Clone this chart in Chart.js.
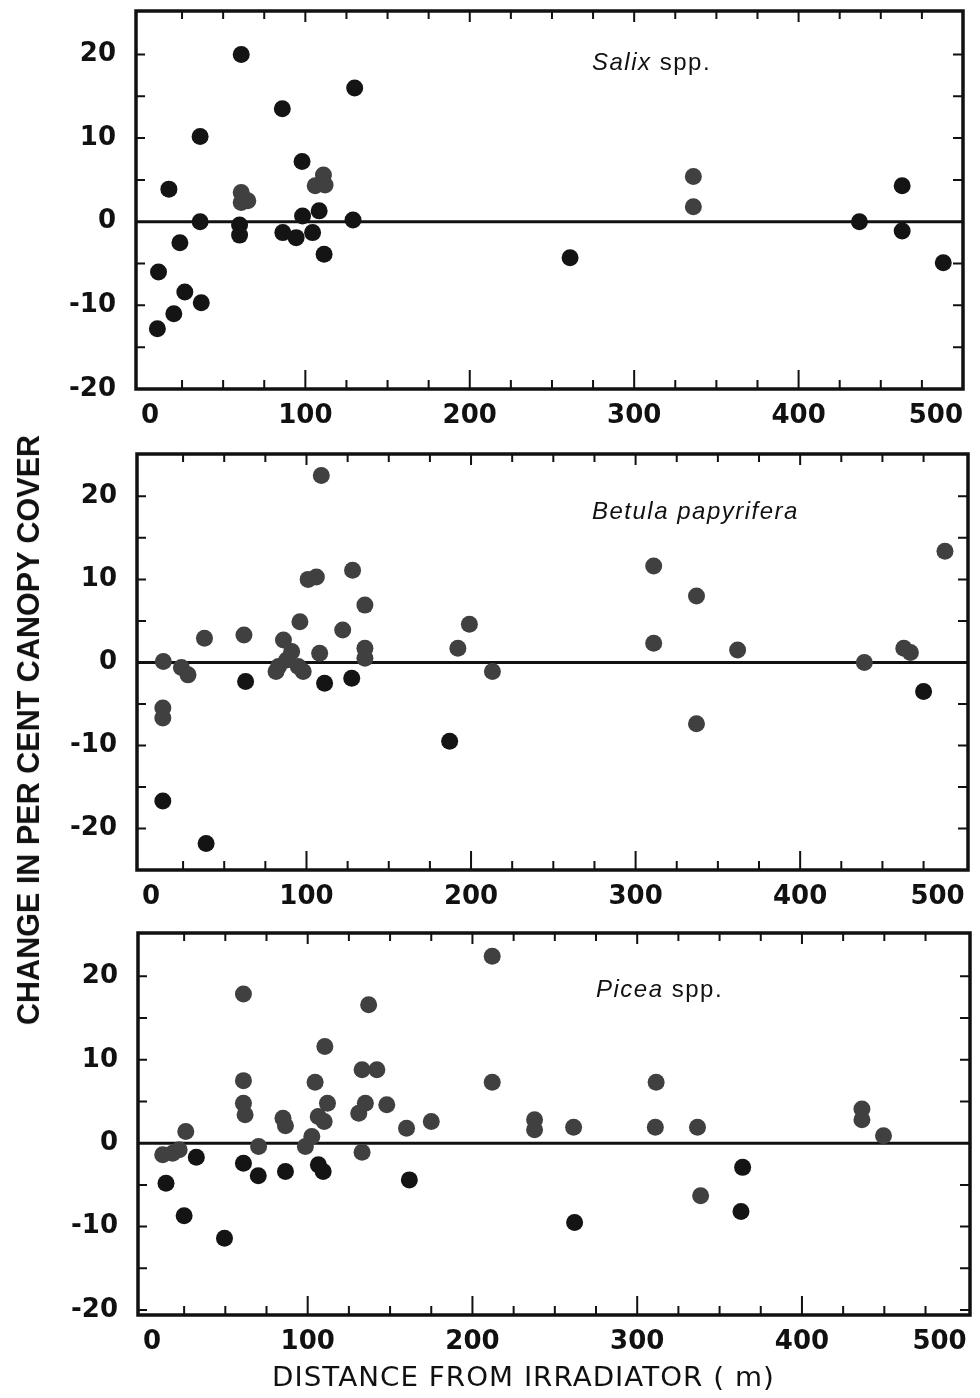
<!DOCTYPE html>
<html>
<head>
<meta charset="utf-8">
<script src="https://cdn.jsdelivr.net/npm/chart.js@4.4.1/dist/chart.umd.min.js"></script>
<style>
  body { margin: 0; background: #fff; width: 980px; height: 1398px; position: relative; overflow: hidden; }
  canvas { position: absolute; left: 0; }
  .species { position: absolute; font-family: "Liberation Sans", Arial, sans-serif; font-size: 24px; line-height: 24px; letter-spacing: 1.5px; color: #111; white-space: nowrap; }
  .species i { font-style: italic; }
  #ytitle { position: absolute; left: 28px; top: 730px; font-family: "Liberation Sans", Arial, sans-serif; font-weight: bold; font-size: 32px; line-height: 32px; color: #111; white-space: nowrap; }
  #xtitle { position: absolute; left: 272px; top: 1363px; font-family: "DejaVu Sans", sans-serif; font-size: 27px; line-height: 28px; letter-spacing: 1px; color: #111; white-space: nowrap; }
</style>
</head>
<body>
<canvas id="salix" width="980" height="440" style="top:0"></canvas>
<canvas id="betula" width="980" height="470" style="top:440px"></canvas>
<canvas id="picea" width="980" height="488" style="top:910px"></canvas>

<div class="species" style="left:592px;top:50px"><i>Salix</i> spp.</div>
<div class="species" style="left:592px;top:499px"><i>Betula papyrifera</i></div>
<div class="species" style="left:596px;top:977px"><i>Picea</i> spp.</div>
<div id="ytitle">CHANGE IN PER CENT CANOPY COVER</div>
<div id="xtitle">DISTANCE FROM IRRADIATOR ( m)</div>

<script>
// tick labels and tick marks
const xTickLabels = [0, 100, 200, 300, 400, 500];
const yTickLabels = [-20, -10, 0, 10, 20];
const xTickMarks = [25, 50, 75, 100, 125, 150, 175, 200, 225, 250, 275, 300, 325, 350, 375, 400, 425, 450, 475];
const yTickMarks = [-20, -15, -10, -5, 5, 10, 15, 20];

// Salix spp. (solid black dots / grey dots)
const salixDarkDist   = [10, 10.7, 17, 20, 23.7, 26.7, 36, 36, 36.7, 60, 60, 61, 86, 86.3, 94.4, 98, 98.3, 104.4, 108.4, 111.4, 129, 130, 261, 437, 463, 463, 488];
const salixDarkChange = [-12.8, -6.0, 3.9, -11.0, -2.5, -8.4, 10.2, 0, -9.7, -0.4, -1.6, 20, 13.5, -1.3, -1.9, 7.2, 0.7, -1.3, 1.3, -3.9, 0.2, 16, -4.3, 0, 4.3, -1.1, -4.9];
const salixGreyDist   = [61, 65, 61, 106, 111, 112, 336, 336];
const salixGreyChange = [3.5, 2.5, 2.3, 4.3, 5.6, 4.4, 5.4, 1.8];

// Betula papyrifera
const betulaGreyDist   = [13, 24, 28, 12.7, 12.7, 38, 62, 86, 91, 83, 81.5, 88, 95, 98, 96, 101, 106, 109, 108, 122, 128, 135.5, 135.5, 135.5, 192, 199, 213, 311, 311, 337, 337, 362, 439, 463, 467, 488];
const betulaGreyChange = [0.1, -0.6, -1.5, -5.5, -6.7, 2.9, 3.3, 2.7, 1.3, -0.5, -1.1, 0.3, -0.5, -1.1, 4.9, 10.0, 10.3, 22.5, 1.1, 3.9, 11.1, 6.9, 1.7, 0.5, 1.7, 4.6, -1.1, 11.6, 2.3, 8.0, -7.4, 1.5, 0, 1.7, 1.2, 13.4];
const betulaDarkDist   = [12.7, 39, 63, 111, 127.5, 187, 475];
const betulaDarkChange = [-16.7, -21.8, -2.3, -2.5, -1.9, -9.5, -3.5];

// Picea spp.
const piceaGreyDist   = [61, 137, 110.4, 133, 142, 61, 104.5, 61, 62, 112, 106.4, 110, 85, 86.5, 135, 131, 148, 102.5, 98.6, 133, 160, 175, 26, 12, 18, 22, 70.2, 212, 212, 237.7, 237.7, 261.4, 311.5, 311, 336.6, 338.5, 436.4, 436.4, 449.5];
const piceaGreyChange = [17.9, 16.6, 11.6, 8.8, 8.8, 7.5, 7.3, 4.8, 3.4, 4.8, 3.2, 2.6, 3.0, 2.1, 4.8, 3.6, 4.6, 0.8, -0.4, -1.1, 1.8, 2.6, 1.4, -1.4, -1.2, -0.8, -0.4, 22.4, 7.3, 2.8, 1.6, 1.9, 7.3, 1.9, 1.9, -6.3, 4.1, 2.8, 0.9];
const piceaDarkDist   = [14, 25, 49.5, 32.4, 61, 70, 86.5, 106.5, 109.4, 161.7, 262, 364, 363];
const piceaDarkChange = [-4.8, -8.7, -11.4, -1.7, -2.4, -3.9, -3.4, -2.6, -3.4, -4.4, -9.5, -2.9, -8.2];

const toPoints = (xs, ys) => xs.map((x, i) => ({ x: x, y: ys[i] }));

// frame, zero line and inward tick marks
const framePlugin = {
  id: 'frame',
  beforeDatasetsDraw(chart) {
    const { ctx, chartArea: a, scales: { y } } = chart;
    const y0 = y.getPixelForValue(0);
    ctx.save();
    ctx.strokeStyle = '#111';
    ctx.lineWidth = 3;
    ctx.beginPath();
    ctx.moveTo(a.left, y0);
    ctx.lineTo(a.right, y0);
    ctx.stroke();
    ctx.restore();
  },
  afterDatasetsDraw(chart) {
    const { ctx, chartArea: a, scales: { x, y } } = chart;
    ctx.save();
    ctx.strokeStyle = '#111';
    ctx.lineWidth = 2;
    ctx.beginPath();
    xTickMarks.forEach(v => {
      const px = x.getPixelForValue(v);
      const major = v % 100 === 0;
      ctx.moveTo(px, a.bottom);
      ctx.lineTo(px, a.bottom - (major ? 19 : 9));
      ctx.moveTo(px, a.top);
      ctx.lineTo(px, a.top + (major ? 11 : 8));
    });
    yTickMarks.forEach(v => {
      if (v < y.min || v > y.max) return;
      const py = y.getPixelForValue(v);
      ctx.moveTo(a.left, py);
      ctx.lineTo(a.left + 9, py);
      ctx.moveTo(a.right, py);
      ctx.lineTo(a.right - 10, py);
    });
    ctx.stroke();
    ctx.lineWidth = 3.5;
    ctx.strokeRect(a.left, a.top, a.right - a.left, a.bottom - a.top);
    ctx.restore();
  }
};

const tickFont = { family: 'DejaVu Sans', size: 26, weight: 'bold' };

function buildPanel(id, grey, dark, cfg) {
  return new Chart(document.getElementById(id), {
    type: 'scatter',
    data: {
      datasets: [
        { data: grey, backgroundColor: '#404040', borderWidth: 0, pointRadius: 8.5 },
        { data: dark, backgroundColor: '#141414', borderWidth: 0, pointRadius: 8.5 }
      ]
    },
    options: {
      responsive: false,
      animation: false,
      events: [],
      layout: { padding: { top: cfg.padTop, right: cfg.padRight, left: 0, bottom: 0 } },
      plugins: { legend: { display: false }, tooltip: { enabled: false } },
      scales: {
        x: {
          type: 'linear', min: cfg.xMin, max: cfg.xMax,
          grid: { display: false, drawTicks: false },
          border: { display: false },
          ticks: { font: tickFont, color: '#111', padding: 12, align: 'inner', autoSkip: false, maxRotation: 0 },
          afterBuildTicks: s => { s.ticks = xTickLabels.map(v => ({ value: v })); },
          afterFit: s => { s.height = cfg.xAxisH; s.paddingLeft = 0; s.paddingRight = 0; }
        },
        y: {
          type: 'linear', min: cfg.yMin, max: cfg.yMax,
          grid: { display: false, drawTicks: false },
          border: { display: false },
          ticks: { font: tickFont, color: '#111', padding: 20, autoSkip: false },
          afterBuildTicks: s => { s.ticks = yTickLabels.map(v => ({ value: v })); },
          afterFit: s => { s.width = cfg.yAxisW; s.paddingTop = 0; s.paddingBottom = 0; }
        }
      }
    },
    plugins: [framePlugin]
  });
}

buildPanel('salix', toPoints(salixGreyDist, salixGreyChange), toPoints(salixDarkDist, salixDarkChange),
  { padTop: 11, padRight: 17, yAxisW: 136, xAxisH: 51, xMin: -3, xMax: 500, yMin: -20, yMax: 25.2 });
buildPanel('betula', toPoints(betulaGreyDist, betulaGreyChange), toPoints(betulaDarkDist, betulaDarkChange),
  { padTop: 14, padRight: 12, yAxisW: 137, xAxisH: 40, xMin: -3, xMax: 502, yMin: -25, yMax: 25.1 });
buildPanel('picea', toPoints(piceaGreyDist, piceaGreyChange), toPoints(piceaDarkDist, piceaDarkChange),
  { padTop: 23, padRight: 10, yAxisW: 138, xAxisH: 83, xMin: -3, xMax: 502, yMin: -20.6, yMax: 25.2 });

// stretch the axis titles to the printed lengths
const yt = document.getElementById('ytitle');
yt.style.transform = 'translate(-50%, -50%) rotate(-90deg) scaleX(' + (590 / yt.offsetWidth) + ')';
const xt = document.getElementById('xtitle');
xt.style.transformOrigin = '0 0';
xt.style.transform = 'scaleX(' + (503 / xt.offsetWidth) + ')';
</script>
</body>
</html>
